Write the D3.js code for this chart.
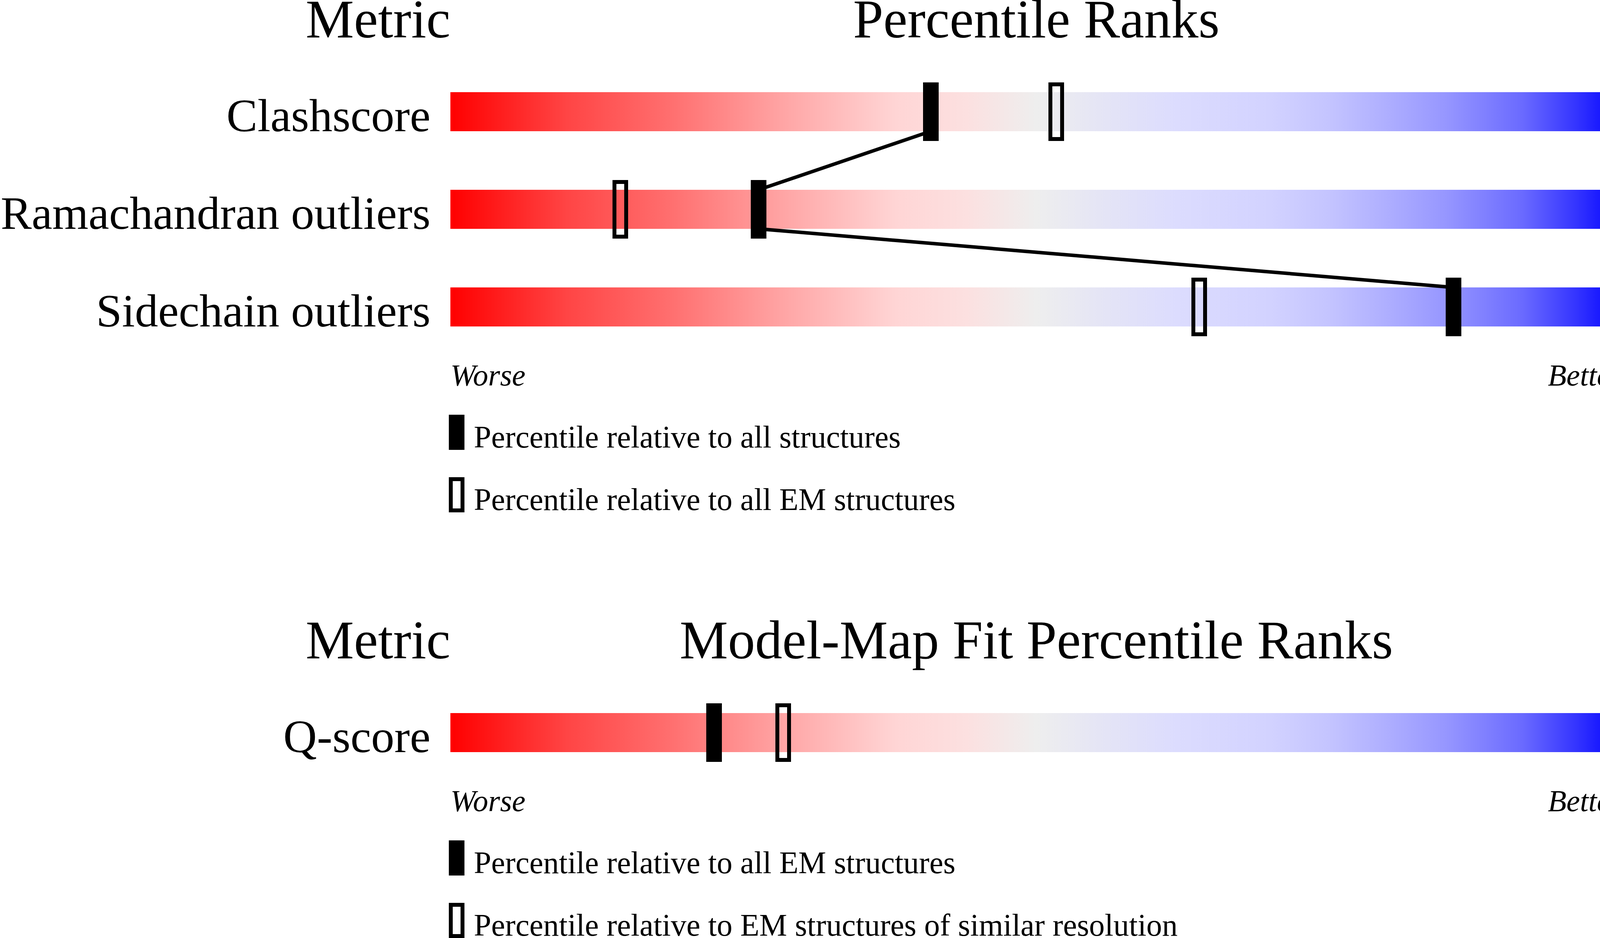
<!DOCTYPE html>
<html>
<head>
<meta charset="utf-8">
<script src="https://cdn.jsdelivr.net/npm/d3@7"></script>
<style>
  body { margin: 0; background: #fff; }
  text { font-family: "Liberation Serif", "Times New Roman", serif; fill: #000; }
</style>
</head>
<body>
<svg id="chart"></svg>
<script>
// percentile slider data
var metrics1 = ['Clashscore', 'Ramachandran outliers', 'Sidechain outliers'];
var values1 = ['7', '0.5%', '0.2%'];
var pctAll1 = [41, 26.3, 85.6];     // filled marker
var pctEM1 = [51.7, 14.5, 63.9];    // outlined marker
var legend1 = ['Percentile relative to all structures', 'Percentile relative to all EM structures'];

var metrics2 = ['Q-score'];
var values2 = ['0.315'];
var pctEM2 = [22.5];
var pctRes2 = [28.4];
var legend2 = ['Percentile relative to all EM structures', 'Percentile relative to EM structures of similar resolution'];

// gradient stops
var stopOffsets = [0, 0.10, 0.19, 0.29, 0.38, 0.44, 0.50, 0.56, 0.62, 0.70, 0.75, 0.80, 0.85, 0.915, 0.96, 1];
var stopColors = ['#ff0000', '#ff4545', '#ff7070', '#ffa8a8', '#ffd5d5', '#fce0e0', '#eeeeee', '#e4e4f6',
  '#dcdcfe', '#d2d2ff', '#c4c4ff', '#aeaeff', '#9696ff', '#6a6aff', '#3535ff', '#0000ff'];

var W = 4485, H = 2402;
var svg = d3.select('#chart').attr('width', W).attr('height', H);

var x = d3.scaleLinear().domain([0, 100]).range([1153, 4153]);
var barH = 100, rowStep = 250;
var markW = 40, markStroke = 10;

var grad = svg.append('defs').append('linearGradient').attr('id', 'slider')
  .attr('x1', '0%').attr('x2', '100%').attr('y1', '0%').attr('y2', '0%');
grad.selectAll('stop').data(stopOffsets).enter().append('stop')
  .attr('offset', function(d) { return d; })
  .attr('stop-color', function(d, i) { return stopColors[i]; });

// draws a marker; filled or outlined
var marker = function(g, cx, y, h, filled) {
  if (filled) {
    g.append('rect').attr('x', cx - markW / 2).attr('y', y).attr('width', markW).attr('height', h)
      .attr('fill', '#000');
  } else {
    g.append('rect').attr('x', cx - markW / 2 + markStroke / 2).attr('y', y + markStroke / 2)
      .attr('width', markW - markStroke).attr('height', h - markStroke)
      .attr('fill', 'none').attr('stroke', '#000').attr('stroke-width', markStroke);
  }
};

var panel = function(top, title, metrics, values, pctA, pctB, legend) {
  var g = svg.append('g');
  var rowY = d3.scaleLinear().domain([0, 1]).range([top + 236, top + 236 + rowStep]);

  g.append('text').attr('x', x(0)).attr('y', top + 96).attr('text-anchor', 'end')
    .style('font-size', '139px').text('Metric');
  g.append('text').attr('x', (x(0) + x(100)) / 2).attr('y', top + 96).attr('text-anchor', 'middle')
    .style('font-size', '139px').text(title);
  g.append('text').attr('x', x(100)).attr('y', top + 96)
    .style('font-size', '139px').text('Value');

  g.selectAll('.bar').data(metrics).enter().append('rect').attr('class', 'bar')
    .attr('x', x(0)).attr('width', x(100) - x(0))
    .attr('y', function(d, i) { return rowY(i); }).attr('height', barH)
    .attr('fill', 'url(#slider)');

  g.selectAll('.label').data(metrics).enter().append('text').attr('class', 'label')
    .attr('x', 1102).attr('y', function(d, i) { return rowY(i) + barH; })
    .attr('text-anchor', 'end').style('font-size', '119px').text(function(d) { return d; });

  g.selectAll('.val').data(values).enter().append('text').attr('class', 'val')
    .attr('x', 4203).attr('y', function(d, i) { return rowY(i) + barH; })
    .style('font-size', '119px').text(function(d) { return d; });

  // connecting line between filled markers
  if (pctA.length > 1) {
    var pts = [];
    pctA.forEach(function(p, i) {
      if (i > 0) pts.push([x(p), rowY(i)]);
      if (i < pctA.length - 1) pts.push([x(p), rowY(i) + barH]);
    });
    g.append('path').attr('d', d3.line()(pts)).attr('fill', 'none')
      .attr('stroke', '#000').attr('stroke-width', 9);
  }

  pctB.forEach(function(p, i) { marker(g, x(p), rowY(i) - 25, barH + 50, false); });
  pctA.forEach(function(p, i) { marker(g, x(p), rowY(i) - 25, barH + 50, true); });

  var wy = rowY(metrics.length - 1) + barH + 151;
  g.append('text').attr('x', x(0)).attr('y', wy).style('font-size', '78px')
    .style('font-style', 'italic').text('Worse');
  g.append('text').attr('x', x(100)).attr('y', wy).attr('text-anchor', 'end')
    .style('font-size', '78px').style('font-style', 'italic').text('Better');

  legend.forEach(function(t, j) {
    marker(g, 1169, wy + 75 + 160 * j, 90, j === 0);
    g.append('text').attr('x', 1213).attr('y', wy + 159 + 160 * j)
      .style('font-size', '80px').text(t);
  });
};

panel(0, 'Percentile Ranks', metrics1, values1, pctAll1, pctEM1, legend1);
panel(1590, 'Model-Map Fit Percentile Ranks', metrics2, values2, pctEM2, pctRes2, legend2);
</script>
</body>
</html>
